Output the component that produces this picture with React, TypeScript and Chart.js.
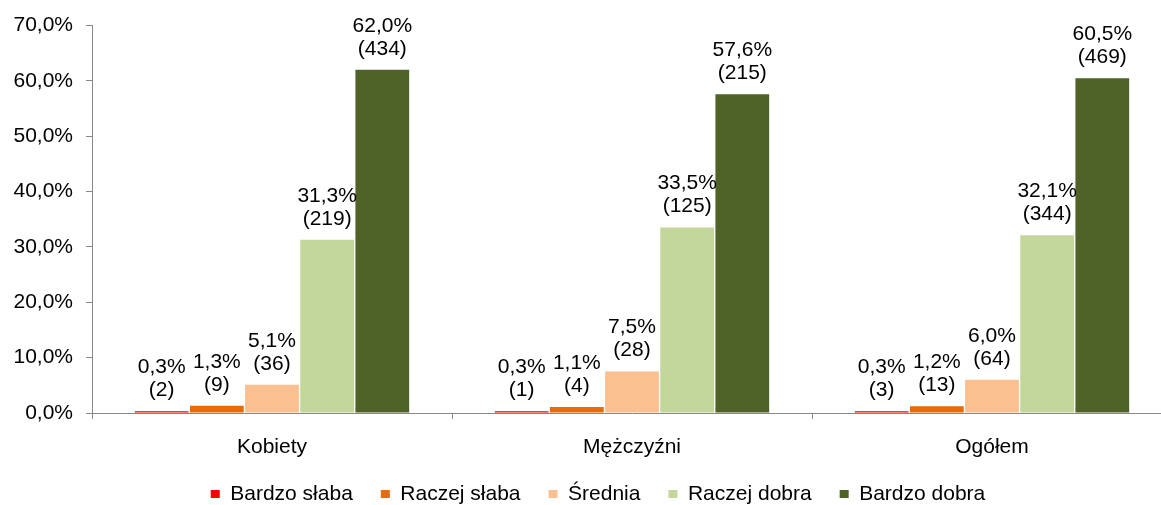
import React, { useEffect, useRef } from "react";
import { Chart, registerables } from "chart.js";

Chart.register(...registerables);

const categories = ["Kobiety", "Mężczyźni", "Ogółem"];
const seriesNames = ["Bardzo słaba", "Raczej słaba", "Średnia", "Raczej dobra", "Bardzo dobra"];
const seriesColors = ["#FF0000", "#E46C0A", "#FAC090", "#C3D69B", "#4F6228"];
const bardzoSlaba = [0.3, 0.3, 0.3];
const raczejSlaba = [1.3, 1.1, 1.2];
const srednia = [5.1, 7.5, 6.0];
const raczejDobra = [31.3, 33.5, 32.1];
const bardzoDobra = [62.0, 57.6, 60.5];
const bardzoSlabaN = [2, 1, 3];
const raczejSlabaN = [9, 4, 13];
const sredniaN = [36, 28, 64];
const raczejDobraN = [219, 125, 344];
const bardzoDobraN = [434, 215, 469];

const seriesValues = [bardzoSlaba, raczejSlaba, srednia, raczejDobra, bardzoDobra];
const seriesCounts = [bardzoSlabaN, raczejSlabaN, sredniaN, raczejDobraN, bardzoDobraN];

const FONT = "'Liberation Sans', Arial, sans-serif";
const fmt = (v: number) => v.toFixed(1).replace(".", ",") + "%";

const labelPlugin = {
  id: "valueLabels",
  afterLayout(chart: any) {
    if (chart.legend) {
      chart.legend.left = 24;
      chart.legend.top = 455.5;
    }
  },
  afterDatasetsDraw(chart: any) {
    const ctx = chart.ctx;
    ctx.save();
    ctx.font = `21px ${FONT}`;
    ctx.fillStyle = "#000";
    ctx.textAlign = "center";
    ctx.textBaseline = "middle";
    chart.data.datasets.forEach((ds: any, i: number) => {
      const meta = chart.getDatasetMeta(i);
      meta.data.forEach((el: any, j: number) => {
        const v = seriesValues[i][j];
        const n = seriesCounts[i][j];
        ctx.fillText(fmt(v), el.x, el.y - 44);
        ctx.fillText(`(${n})`, el.x, el.y - 21);
      });
    });
    ctx.restore();
  },
};

export default function App() {
  const ref = useRef<HTMLCanvasElement>(null);
  useEffect(() => {
    document.body.style.margin = "0";
    document.body.style.overflow = "hidden";
    const chart = new Chart(ref.current!, {
      type: "bar",
      data: {
        labels: categories,
        datasets: seriesNames.map((name, i) => ({
          label: name,
          data: seriesValues[i],
          backgroundColor: seriesColors[i],
          borderWidth: 0,
          categoryPercentage: 0.766,
          barPercentage: 0.975,
        })),
      },
      options: {
        responsive: false,
        animation: false,
        layout: { padding: { top: 24, right: 2, left: 0, bottom: 0 } },
        font: { family: FONT },
        scales: {
          x: {
            offset: true,
            grid: { display: true, drawOnChartArea: false, drawTicks: true, tickLength: 6, color: "#888" },
            border: { display: true, color: "#888", width: 1 },
            ticks: { font: { family: FONT, size: 21 }, color: "#000", padding: 16 },
            afterFit: (s: any) => { s.height = 48; },
          },
          y: {
            min: 0,
            max: 70,
            grid: { display: true, drawOnChartArea: false, drawTicks: true, tickLength: 6, color: "#888" },
            border: { display: true, color: "#888", width: 1 },
            ticks: {
              stepSize: 10,
              font: { family: FONT, size: 21 },
              color: "#000",
              padding: 13,
              callback: (v: any) => fmt(Number(v)),
            },
            afterFit: (s: any) => { s.width = 92; },
          },
        },
        plugins: {
          legend: {
            position: "bottom",
            labels: {
              font: { family: FONT, size: 21 },
              color: "#000",
              boxWidth: 9,
              boxHeight: 8,
              padding: 28,
            },
          },
          tooltip: { enabled: false },
        },
      },
      plugins: [labelPlugin],
    } as any);
    return () => chart.destroy();
  }, []);
  return <canvas ref={ref} width={1174} height={520} style={{ display: "block" }} />;
}
